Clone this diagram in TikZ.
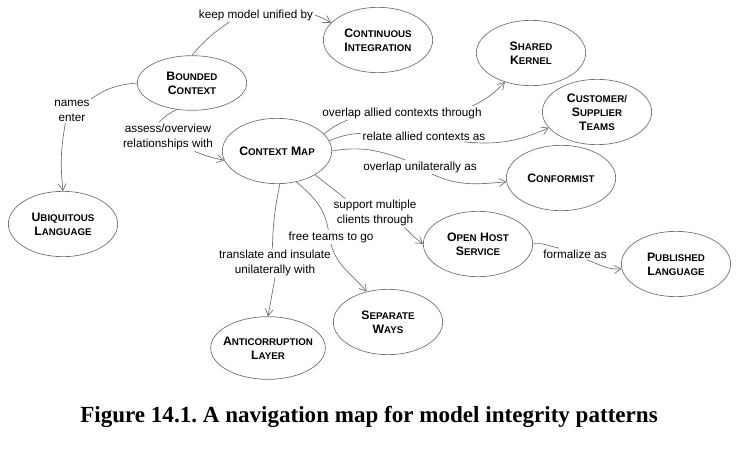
\documentclass[tikz,border=0pt]{standalone}
\usepackage{fontspec}
\setmainfont{Liberation Sans}
\newfontfamily\captionfont{Liberation Serif}
\usepackage{tikz}
\usetikzlibrary{arrows.meta, shapes.geometric}
\definecolor{mapLine}{HTML}{6E6E6E}
\newcommand{\smc}[2]{#1{\fontsize{7.3}{10.5}\selectfont #2}}
\frenchspacing

\begin{document}
\begin{tikzpicture}[
            >={Straight Barb[length=5pt, width=6pt]},
            % pattern ellipses: bold small caps, thin grey outline
            pat/.style ={ellipse, draw=mapLine, line width=0.5pt, minimum width=82pt, minimum height=49pt,
                    inner xsep=-12pt, inner ysep=0pt, align=center, font=\fontsize{9.2}{10.5}\selectfont\bfseries},
            lbl/.style ={align=center, font=\fontsize{8.8}{11}\selectfont, inner sep=1pt},
            ln/.style  ={draw=mapLine, line width=0.5pt},
            arr/.style ={ln, ->},
            x=0.75pt, y=-0.75pt
        ]

        \useasboundingbox (0,0) rectangle (748,453);

        \node[pat, minimum height=41pt] (bounded) at (192,83)  {\smc{B}{OUNDED}\\\smc{C}{ONTEXT}};
        \node[pat] (ci)      at (378,40)  {\smc{C}{ONTINUOUS}\\\smc{I}{NTEGRATION}};
        \node[pat] (kernel)  at (531,53)  {\smc{S}{HARED}\\\smc{K}{ERNEL}};
        \node[pat] (custsup) at (597,112) {\smc{C}{USTOMER/}\\\smc{S}{UPPLIER}\\\smc{T}{EAMS}};
        \node[pat] (conform) at (561,178) {\smc{C}{ONFORMIST}};
        \node[pat] (ctxmap)  at (277,151) {\smc{C}{ONTEXT} \smc{M}{AP}};
        \node[pat] (ubiq)    at (63,224)  {\smc{U}{BIQUITOUS}\\\smc{L}{ANGUAGE}};
        \node[pat, minimum width=86pt, minimum height=47pt] (acl) at (268,348) {\smc{A}{NTICORRUPTION}\\\smc{L}{AYER}};
        \node[pat] (sepways) at (388,322) {\smc{S}{EPARATE}\\\smc{W}{AYS}};
        \node[pat] (ohs)     at (478,244) {\smc{O}{PEN} \smc{H}{OST}\\\smc{S}{ERVICE}};
        \node[pat] (publang) at (676,264) {\smc{P}{UBLISHED}\\\smc{L}{ANGUAGE}};

        % relationship labels sit in the middle of each connector
        \node[lbl] (lKeep)      at (256,15)  {keep model unified by};
        \node[lbl] (lNames)     at (72,111)  {names\\enter};
        \node[lbl] (lAssess)    at (168,137) {assess/overview\\relationships with};
        \node[lbl] (lOverAllied) at (402,113) {overlap allied contexts through};
        \node[lbl] (lRelate)    at (424,136) {relate allied contexts as};
        \node[lbl] (lOverUni)   at (420,167) {overlap unilaterally as};
        \node[lbl] (lSupport)   at (375,213) {support multiple\\clients through};
        \node[lbl] (lFree)      at (331,237) {free teams to go};
        \node[lbl] (lTranslate) at (275,263) {translate and insulate\\unilaterally with};
        \node[lbl] (lFormalize) at (575,254) {formalize as};

        \draw[ln]  (bounded.north) to[bend left=8] ([xshift=24pt]lKeep.south west);
        \draw[arr] (lKeep.east) to[bend left=6] (ci.160);
        \draw[ln]  (bounded.west) to[out=185, in=35] (lNames.north east);
        \draw[arr] ([xshift=-5pt]lNames.south) to[bend right=8] (ubiq.north);
        \draw[ln]  (bounded.240) to[bend right=10] ([xshift=-7pt]lAssess.north);
        \draw[arr] ([xshift=-15pt]lAssess.south east) to[bend right=5] (ctxmap.190);
        \draw[ln]  (ctxmap.20) to[bend left=8] ([xshift=20pt]lOverAllied.south west);
        \draw[arr] ([xshift=-8pt]lOverAllied.north east) to[bend right=10] (kernel.228);
        \draw[ln]  (ctxmap.11) to[bend left=10] ([yshift=2pt]lRelate.west);
        \draw[arr] ([xshift=-17pt]lRelate.south east) to[bend right=15] (custsup.198);
        \draw[ln]  (ctxmap.east) to[out=10, in=160] ([xshift=-11pt]lOverUni.north);
        \draw[arr] ([xshift=9pt]lOverUni.south) to[out=-25, in=185] (conform.184);
        \draw[ln]  (ctxmap.-32) -- ([xshift=10pt]lSupport.north west);
        \draw[arr] ([xshift=-10pt]lSupport.south east) to[bend right=5] (ohs.west);
        \draw[ln]  (ctxmap.-58) to[out=-40, in=100] ([xshift=-2pt]lFree.north);
        \draw[arr] (lFree.south) to[out=-75, in=130] (sepways.125);
        \draw[ln]  (ctxmap.-85) to[bend right=5] ([xshift=-2pt]lTranslate.north);
        \draw[arr] (lTranslate.south) -- (acl.north);
        \draw[ln]  (ohs.east) to[out=10, in=170] ([xshift=-12pt]lFormalize.north);
        \draw[arr] ([xshift=9pt]lFormalize.south) to[out=-20, in=185] (publang.185);

        \node[font=\captionfont\bfseries\fontsize{17.3}{20}\selectfont] (caption) at (369,417)
              {Figure 14.1. A navigation map for model integrity patterns};

    \end{tikzpicture}
\end{document}
